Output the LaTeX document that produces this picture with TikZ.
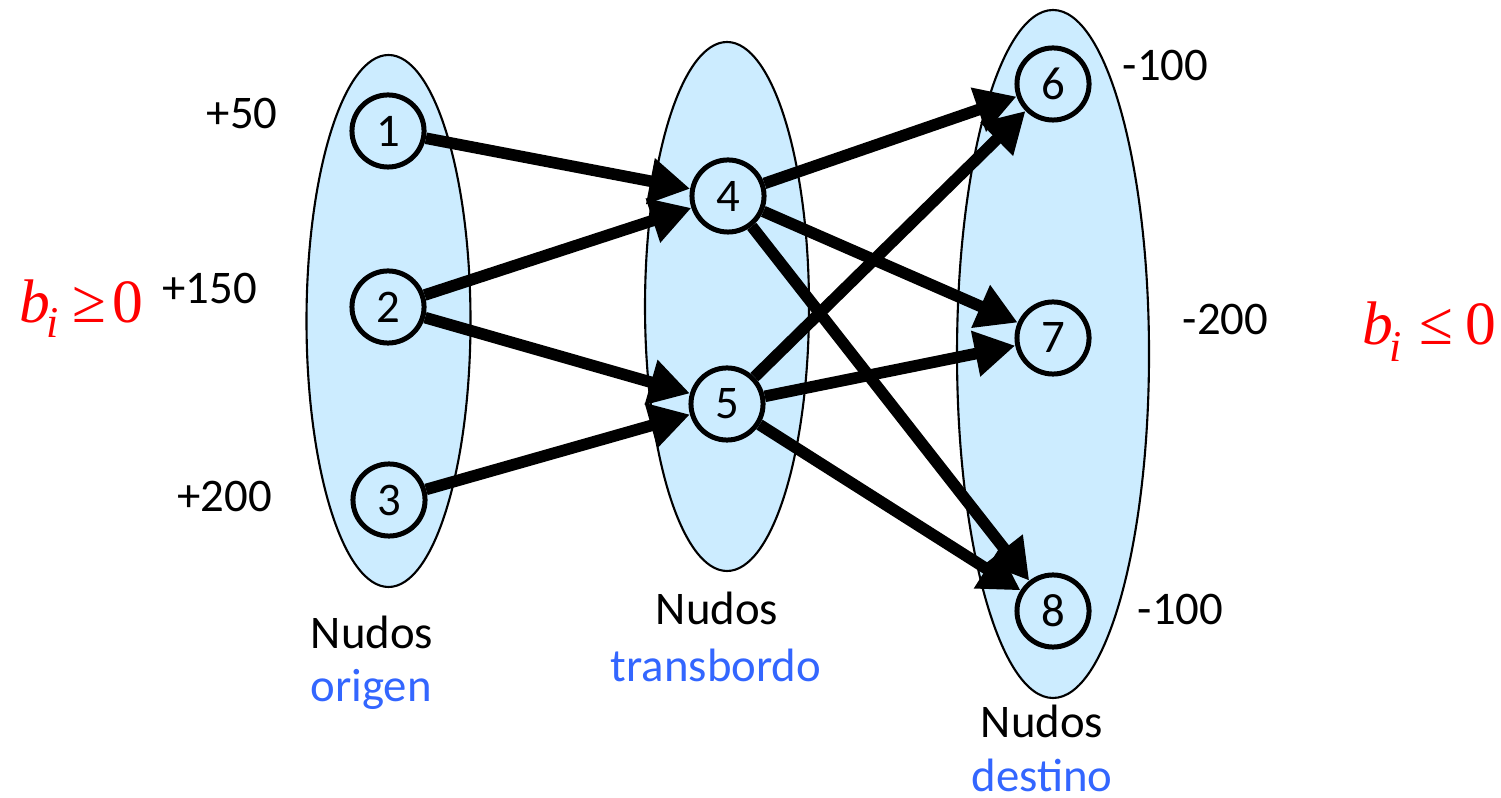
\documentclass[tikz,border=0pt]{standalone}
\usepackage{fontspec}
\setmainfont{Carlito}
\newfontfamily\timesf{Liberation Serif}
\usetikzlibrary{arrows.meta}
\definecolor{setfill}{RGB}{204,236,255}
\definecolor{lblblue}{RGB}{51,102,255}
\definecolor{bred}{RGB}{255,0,0}
\begin{document}
\begin{tikzpicture}[x=0.01cm,y=-0.01cm,
  nd/.style={circle,draw=black,line width=1.42pt,fill=setfill,minimum size=20.5pt,inner sep=0pt,font=\fontsize{13.3}{13.3}\selectfont},
  grp/.style={draw=black,line width=0.6pt,fill=setfill},
  lbl/.style={anchor=base,inner sep=0pt,font=\fontsize{13.3}{13.3}\selectfont},
  num/.style={anchor=base west,inner sep=0pt,font=\fontsize{13.3}{13.3}\selectfont},
  flow/.style={line width=3.3pt,-{Triangle[length=11.5pt,width=12.5pt]}},
  mathlbl/.style={anchor=base west,inner sep=0pt,text=bred,font=\timesf\fontsize{17.5}{17.5}\selectfont}]
\useasboundingbox (0,0) rectangle (1501,798);
% groups
\draw[grp] (388.5,321) ellipse [x radius=82, y radius=266];
\draw[grp] (727,306.5) ellipse [x radius=82, y radius=264.5];
\draw[grp] (1053,354) ellipse [x radius=96, y radius=344];
% nodes
\node[nd] (n1) at (388,131) {1};
\node[nd] (n2) at (388,307) {2};
\node[nd] (n3) at (389,500) {3};
\node[nd] (n4) at (728,196) {4};
\node[nd] (n5) at (727,404) {5};
\node[nd] (n6) at (1053,84) {6};
\node[nd] (n7) at (1053,338) {7};
\node[nd] (n8) at (1053,611) {8};
% arcs
\draw[flow] (n1) -- (n4);
\draw[flow] (n2) -- (n4);
\draw[flow] (n2) -- (n5);
\draw[flow] (n3) -- (n5);
\draw[flow] (n4) -- (n6);
\draw[flow] (n4) -- (n7);
\draw[flow] (n4) -- (n8);
\draw[flow] (n5) -- (n6);
\draw[flow] (n5) -- (n7);
\draw[flow] (n5) -- (n8);
% supplies / demands
\node[num] (s1) at (206,129) {+50};
\node[num] (s2) at (162,304) {+150};
\node[num] (s3) at (177,512) {+200};
\node[num] (d6) at (1122,81) {-100};
\node[num] (d7) at (1182,335) {-200};
\node[num] (d8) at (1137,625) {-100};
% group labels
\node[lbl] (g1a) at (372,648) {Nudos};
\node[lbl,text=lblblue] (g1b) at (371,702) {origen};
\node[lbl] (g2a) at (717,625) {Nudos};
\node[lbl,text=lblblue] (g2b) at (716,682) {transbordo};
\node[lbl] (g3a) at (1042,737) {Nudos};
\node[lbl,text=lblblue] (g3b) at (1042,791) {destino};
% sign conditions
\node[mathlbl] (bl) at (19,323) {\itshape b\kern-1pt\raisebox{-0.23em}{\fontsize{12.5}{12.5}\selectfont\itshape i}\kern3.7pt\upshape ≥\kern2pt0};
\node[mathlbl] (br) at (1362,345) {\itshape b\kern-1pt\raisebox{-0.27em}{\fontsize{12.5}{12.5}\selectfont\itshape i}\kern5pt\upshape ≤\kern3.5pt0};
\end{tikzpicture}
\end{document}
